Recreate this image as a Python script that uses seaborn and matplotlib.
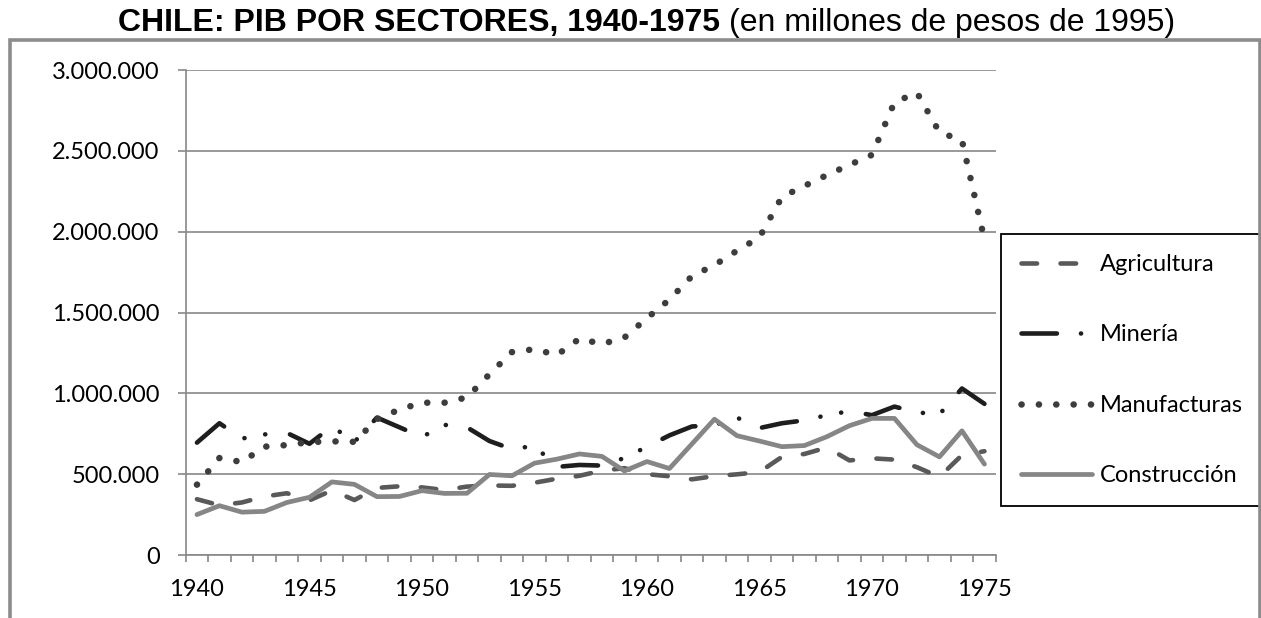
import matplotlib
matplotlib.use("Agg")
import matplotlib.pyplot as plt
import numpy as np
import pandas as pd
import seaborn as sns
from matplotlib.ticker import FixedLocator, FuncFormatter
from matplotlib.patches import Rectangle

# ---------------- data ----------------
years = list(range(1940, 1976))
agricultura = [345, 308, 325, 362, 382, 338, 400, 340, 415, 425, 418, 402, 423, 430, 428, 447, 472, 490,
               522, 537, 500, 487, 468, 488, 499, 513, 607, 625, 665, 585, 598, 590, 543, 483, 618, 642]
mineria = [695, 815, 720, 746, 755, 688, 795, 700, 850, 790, 730, 805, 790, 705, 655, 675, 545, 557,
           553, 600, 670, 740, 795, 803, 850, 785, 815, 833, 865, 890, 865, 918, 882, 870, 1030, 935]
manufacturas = [435, 600, 575, 670, 680, 698, 703, 700, 840, 900, 942, 942, 975, 1118, 1255, 1273, 1237, 1338,
                1305, 1345, 1465, 1580, 1725, 1793, 1882, 1965, 2215, 2283, 2350, 2413, 2475, 2800, 2860, 2615, 2565, 1950]
construccion = [250, 305, 265, 270, 325, 357, 452, 437, 361, 362, 398, 381, 382, 498, 490, 568, 593, 625,
                610, 520, 578, 535, 687, 840, 738, 705, 670, 677, 732, 800, 845, 845, 682, 607, 768, 562]
series_names = ["Agricultura", "Minería", "Manufacturas", "Construcción"]
x_tick_years = [1940, 1945, 1950, 1955, 1960, 1965, 1970, 1975]
y_ticks = [0, 500000, 1000000, 1500000, 2000000, 2500000, 3000000]
title_bold = "CHILE: PIB POR SECTORES, 1940-1975"
title_rest = "(en millones de pesos de 1995)"

# ---------------- style ----------------
sns.set_theme(style="white")
plt.rcParams['font.family'] = ['Lato', 'DejaVu Sans']
plt.rcParams['lines.scale_dashes'] = False

W, H = 1261, 618
fig = plt.figure(figsize=(W / 100, H / 100), dpi=100)
fig.patch.set_facecolor("white")
ax = fig.add_axes([185.7 / W, 1 - 555 / H, (995.7 - 185.7) / W, (555 - 70) / H])
ax.set_facecolor("white")

df = pd.DataFrame({
    "idx": np.arange(len(years)),
    "Agricultura": np.array(agricultura) * 1000,
    "Minería": np.array(mineria) * 1000,
    "Manufacturas": np.array(manufacturas) * 1000,
    "Construcción": np.array(construccion) * 1000,
})

styles = {
    "Agricultura": dict(color="#595959", lw=3.3, linestyle=(0, (11.2, 16.9))),
    "Minería": dict(color="#1e1e1e", lw=3.3, linestyle=(0, (25.5, 17.3, 0.1, 15.1, 0.1, 18.0))),
    "Manufacturas": dict(color="#3d3d3d", lw=4.7, linestyle=(0, (0.1, 12.4))),
    "Construcción": dict(color="#868686", lw=3.4, linestyle="-"),
}

for name in series_names:
    st = styles[name]
    sns.lineplot(data=df, x="idx", y=name, ax=ax, color=st["color"], linewidth=st["lw"],
                 linestyle=st["linestyle"], dash_capstyle="round", solid_capstyle="round",
                 solid_joinstyle="round", dash_joinstyle="round", label=name, legend=False)

ax.set_xlim(-0.5, len(years) - 0.5)
ax.set_ylim(0, 3000000)
ax.set_xlabel("")
ax.set_ylabel("")

grid_c = "#888888"
for s in ["top", "right"]:
    ax.spines[s].set_visible(False)
for s in ["left", "bottom"]:
    ax.spines[s].set_color(grid_c)
    ax.spines[s].set_linewidth(1.2)

ax.yaxis.set_major_locator(FixedLocator(y_ticks))
ax.yaxis.set_major_formatter(FuncFormatter(lambda v, p: f"{int(v):,}".replace(",", ".")))
ax.grid(axis="y", color=grid_c, linewidth=1.2)
ax.set_axisbelow(True)
ax.tick_params(axis="y", which="major", direction="out", length=5.8, width=1.2, color=grid_c,
               pad=13, labelsize=17, labelcolor="black", left=True)

ax.xaxis.set_major_locator(FixedLocator([years.index(y) for y in x_tick_years]))
ax.set_xticklabels([str(y) for y in x_tick_years])
ax.xaxis.set_minor_locator(FixedLocator(np.arange(-0.5, len(years), 1.0)))
ax.tick_params(axis="x", which="major", length=0, pad=17, labelsize=17, labelcolor="black", bottom=True)
ax.tick_params(axis="x", which="minor", direction="out", length=5, width=1.2, color=grid_c, bottom=True)

# outer chart border
fig.add_artist(Rectangle((9.5 / W, -0.3), (1259.5 - 9.5) / W, 1.3 - 40.3 / H,
                         transform=fig.transFigure, fill=False, edgecolor="#8c8c8c", linewidth=2.6))

# legend
leg = ax.legend(loc="upper left", bbox_to_anchor=(1001 / W, 1 - 234 / H), bbox_transform=fig.transFigure,
                frameon=True, fancybox=False, edgecolor="black", fontsize=17, borderpad=0.85,
                labelspacing=2.09, handlelength=3.0, handletextpad=0.34, borderaxespad=0)
leg.get_frame().set_linewidth(1.3)
leg.get_frame().set_facecolor("white")
leg.get_frame().set_alpha(1)
for t in leg.get_texts():
    t.set_color("black")

# title (bold part + regular part)
tb = fig.text(118 / W, 1 - 31.5 / H, title_bold, ha="left", va="baseline", fontsize=23,
              fontweight="bold", family="Liberation Sans", color="black")
fig.canvas.draw()
bb = tb.get_window_extent()
fig.text((bb.x1 + 8.8) / W, 1 - 31.5 / H, title_rest, ha="left", va="baseline", fontsize=23,
         family="Liberation Sans", color="black")

fig.savefig("out.png", dpi=100, facecolor="white")
